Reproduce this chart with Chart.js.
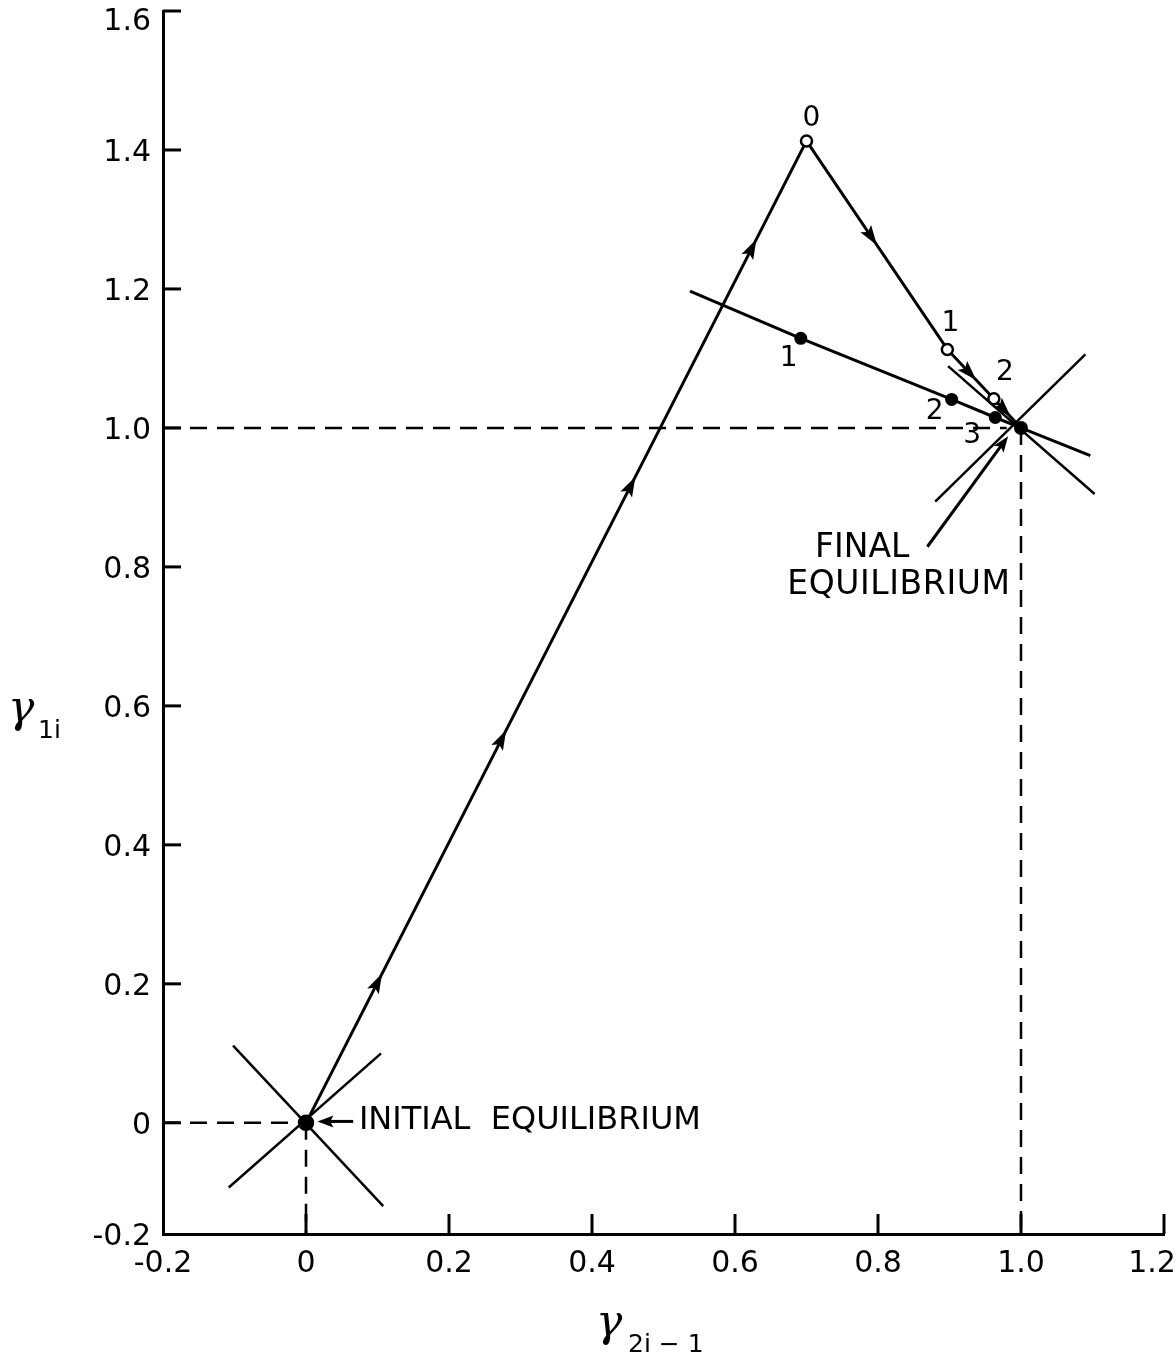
<!DOCTYPE html>
<html><head><meta charset="utf-8">
<script src="https://cdn.jsdelivr.net/npm/chart.js@4.4.1/dist/chart.umd.min.js"></script>
<style>html,body{margin:0;padding:0;background:#fff;}canvas{display:block;}</style>
</head><body>
<canvas id="c" width="1176" height="1360"></canvas>
<script>
// ---- tick values / labels ----
const xTickValues = [-0.2, 0, 0.2, 0.4, 0.6, 0.8, 1.0, 1.2];
const xTickLabels = ['-0.2', '0', '0.2', '0.4', '0.6', '0.8', '1.0', '1.2'];
const yTickValues = [-0.16, 0, 0.2, 0.4, 0.6, 0.8, 1.0, 1.2, 1.4, 1.6];
const yTickLabels = ['-0.2', '0', '0.2', '0.4', '0.6', '0.8', '1.0', '1.2', '1.4', '1.6'];

// ---- trajectory of open-circle iterates (starting from initial equilibrium) ----
const trajX = [0, 0.70, 0.897, 0.962, 1.0];
const trajY = [0, 1.413, 1.113, 1.042, 1.0];
const trajLabels = ['', '0', '1', '2', ''];

// ---- line of filled-point iterates ----
const iterX = [0.537, 0.692, 0.903, 0.964, 1.0, 1.097];
const iterY = [1.197, 1.129, 1.041, 1.015, 1.0, 0.960];
const iterLabels = ['', '1', '2', '3', '', ''];

// ---- crosses through the equilibria ----
const initCrossAX = [-0.102, 0.108];
const initCrossAY = [0.111, -0.120];
const initCrossBX = [-0.108, 0.105];
const initCrossBY = [-0.093, 0.100];
const finalCrossAX = [0.898, 1.103];
const finalCrossAY = [1.089, 0.905];
const finalCrossBX = [0.880, 1.090];
const finalCrossBY = [0.894, 1.106];

// ---- dashed guide lines ----
const guideH1X = [-0.2, 0.98];
const guideH1Y = [1.0, 1.0];
const guideV1X = [1.0, 1.0];
const guideV1Y = [1.0, -0.16];
const guideH0X = [-0.2, 0];
const guideH0Y = [0, 0];
const guideV0X = [0, 0];
const guideV0Y = [0, -0.16];

// ---- annotation text ----
const initialText = ['INITIAL  EQUILIBRIUM'];
const finalText = ['FINAL', 'EQUILIBRIUM'];

function pts(xs, ys) { return xs.map((x, i) => ({x: x, y: ys[i]})); }

const BLACK = '#000';
const FONT = '"DejaVu Sans", "Liberation Sans", sans-serif';
const GREEK = 'italic 44px "DejaVu Serif", "Liberation Serif", serif';

function seg(xs, ys, dash, width) {
  return {
    data: pts(xs, ys), showLine: true, borderColor: BLACK, borderWidth: width || 2.5,
    borderDash: dash || [], pointRadius: 0, fill: false, tension: 0
  };
}

const datasets = [
  seg(guideH1X, guideH1Y, [17, 10], 2.5),
  seg(guideV1X, guideV1Y, [17, 10], 2.5),
  seg(guideH0X, guideH0Y, [17, 10], 2.5),
  seg(guideV0X, guideV0Y, [17, 10], 2.5),
  seg(initCrossAX, initCrossAY, null, 2.5),
  seg(initCrossBX, initCrossBY, null, 2.5),
  seg(finalCrossAX, finalCrossAY, null, 2.5),
  seg(finalCrossBX, finalCrossBY, null, 2.5),
  {
    data: pts(iterX, iterY), showLine: true, borderColor: BLACK, borderWidth: 3,
    pointRadius: [0, 6.5, 6.5, 6.5, 7, 0], pointBackgroundColor: BLACK, pointBorderColor: BLACK,
    pointBorderWidth: 0, tension: 0
  },
  {
    data: pts(trajX, trajY), showLine: true, borderColor: BLACK, borderWidth: 3,
    pointRadius: [7, 5.5, 5.5, 5.5, 0], pointBackgroundColor: [BLACK, '#fff', '#fff', '#fff', BLACK],
    pointBorderColor: BLACK, pointBorderWidth: 2.5, tension: 0
  }
];
const ITER = 8, TRAJ = 9;

// arrowhead positions (fraction along each leg of the trajectory)
const arrowFractions = [[0.152, 0.40, 0.658, 0.90], [0.50], [0.62], [0.62]];
// label offsets (px) relative to their points
const trajLabelOffsets = [[0, 0], [5, -22], [3, -26], [11, -26], [0, 0]];
const iterLabelOffsets = [[0, 0], [-12, 20], [-17, 12], [-23, 18], [0, 0], [0, 0]];

function arrowHead(ctx, x, y, ang, len, half) {
  ctx.save();
  ctx.translate(x, y); ctx.rotate(ang);
  ctx.beginPath();
  ctx.moveTo(0, 0); ctx.lineTo(-len, -half); ctx.lineTo(-len * 0.8, 0); ctx.lineTo(-len, half);
  ctx.closePath(); ctx.fillStyle = BLACK; ctx.fill();
  ctx.restore();
}

// nudge the two end labels so they stay inside the canvas, as in the original
const labelNudge = {
  id: 'labelNudge',
  beforeDraw(chart) {
    const xi = chart.scales.x.getLabelItems(chart.chartArea);
    if (xi.length) xi[xi.length - 1].options.translation[0] -= 12;
    const yi = chart.scales.y.getLabelItems(chart.chartArea);
    yi.forEach(it => { it.options.translation[1] += 3; });
    if (yi.length) yi[yi.length - 1].options.translation[1] += 8;
  }
};

const decor = {
  id: 'decor',
  afterDatasetsDraw(chart) {
    const ctx = chart.ctx;
    const xs = chart.scales.x, ys = chart.scales.y;
    const ca = chart.chartArea;
    const px = v => xs.getPixelForValue(v), py = v => ys.getPixelForValue(v);
    ctx.save();
    // inward tick marks
    ctx.strokeStyle = BLACK; ctx.lineWidth = 3;
    ys.ticks.forEach(t => {
      const y = py(t.value);
      if (Math.abs(y - ca.bottom) < 2) return;
      ctx.beginPath(); ctx.moveTo(ca.left, y); ctx.lineTo(ca.left + 18, y); ctx.stroke();
    });
    xs.ticks.forEach(t => {
      const x = px(t.value);
      if (Math.abs(x - ca.left) < 2) return;
      ctx.beginPath(); ctx.moveTo(x, ca.bottom); ctx.lineTo(x, ca.bottom - 20); ctx.stroke();
    });
    // arrowheads on trajectory
    const tm = chart.getDatasetMeta(TRAJ).data;
    arrowFractions.forEach((fr, i) => {
      const a = tm[i], b = tm[i + 1];
      const ang = Math.atan2(b.y - a.y, b.x - a.x);
      fr.forEach(f => arrowHead(ctx, a.x + (b.x - a.x) * f, a.y + (b.y - a.y) * f, ang, 20, 6.5));
    });
    // point labels
    ctx.fillStyle = BLACK; ctx.textAlign = 'center'; ctx.textBaseline = 'middle';
    ctx.font = '28px ' + FONT;
    trajLabels.forEach((s, i) => { if (s) ctx.fillText(s, tm[i].x + trajLabelOffsets[i][0], tm[i].y + trajLabelOffsets[i][1]); });
    const im = chart.getDatasetMeta(ITER).data;
    iterLabels.forEach((s, i) => { if (s) ctx.fillText(s, im[i].x + iterLabelOffsets[i][0], im[i].y + iterLabelOffsets[i][1]); });
    // initial equilibrium annotation
    ctx.lineWidth = 3;
    let ax0 = px(0.066), ax1 = px(0.016), ay = py(0.002);
    ctx.beginPath(); ctx.moveTo(ax0, ay); ctx.lineTo(ax1 + 8, ay); ctx.stroke();
    arrowHead(ctx, ax1, ay, Math.PI, 16, 6);
    ctx.textAlign = 'left'; ctx.font = '32px ' + FONT;
    ctx.fillText(initialText[0], px(0.074), py(0.003));
    // final equilibrium annotation
    const fx0 = px(0.869), fy0 = py(0.829), fx1 = px(0.982), fy1 = py(0.988);
    const fang = Math.atan2(fy1 - fy0, fx1 - fx0);
    ctx.beginPath(); ctx.moveTo(fx0, fy0); ctx.lineTo(fx1 - 8 * Math.cos(fang), fy1 - 8 * Math.sin(fang)); ctx.stroke();
    arrowHead(ctx, fx1, fy1, fang, 16, 6);
    ctx.font = '33px ' + FONT;
    ctx.fillText(finalText[0], px(0.712), py(0.827));
    ctx.letterSpacing = '0.6px';
    ctx.fillText(finalText[1], px(0.673), py(0.773));
    ctx.letterSpacing = '0px';
    // axis titles
    ctx.textBaseline = 'alphabetic';
    ctx.font = GREEK;
    ctx.fillText('\u03B3', 8, 722);
    ctx.font = '25px ' + FONT;
    ctx.fillText('1i', 38, 738);
    ctx.font = GREEK;
    ctx.fillText('\u03B3', 596, 1336);
    ctx.font = '25px ' + FONT;
    ctx.fillText('2i \u2212 1', 628, 1352);
    ctx.restore();
  }
};

new Chart(document.getElementById('c'), {
  type: 'scatter',
  data: { datasets: datasets },
  plugins: [labelNudge, decor],
  options: {
    responsive: false, animation: false, devicePixelRatio: 1,
    layout: { padding: { top: 11, right: 12, left: 0, bottom: 0 } },
    plugins: { legend: { display: false }, tooltip: { enabled: false } },
    scales: {
      x: {
        type: 'linear', min: -0.2, max: 1.2,
        afterFit: s => { s.height = 126; s.paddingLeft = 0; s.paddingRight = 0; },
        afterBuildTicks: s => { s.ticks = xTickValues.map(v => ({value: v})); },
        ticks: {
          color: BLACK, padding: 12, font: { family: FONT, size: 30 },
          callback: (v) => { const i = xTickValues.findIndex(t => Math.abs(t - v) < 1e-9); return i >= 0 ? xTickLabels[i] : ''; }
        },
        grid: { display: true, drawOnChartArea: false, drawTicks: false },
        border: { display: true, color: BLACK, width: 3 }
      },
      y: {
        type: 'linear', min: -0.16, max: 1.6,
        afterFit: s => { s.width = 163; s.paddingTop = 0; s.paddingBottom = 0; },
        afterBuildTicks: s => { s.ticks = yTickValues.map(v => ({value: v})); },
        ticks: {
          color: BLACK, padding: 12, font: { family: FONT, size: 30 },
          callback: (v) => { const i = yTickValues.findIndex(t => Math.abs(t - v) < 1e-9); return i >= 0 ? yTickLabels[i] : ''; }
        },
        grid: { display: true, drawOnChartArea: false, drawTicks: false },
        border: { display: true, color: BLACK, width: 3 }
      }
    }
  }
});
</script>
</body></html>
